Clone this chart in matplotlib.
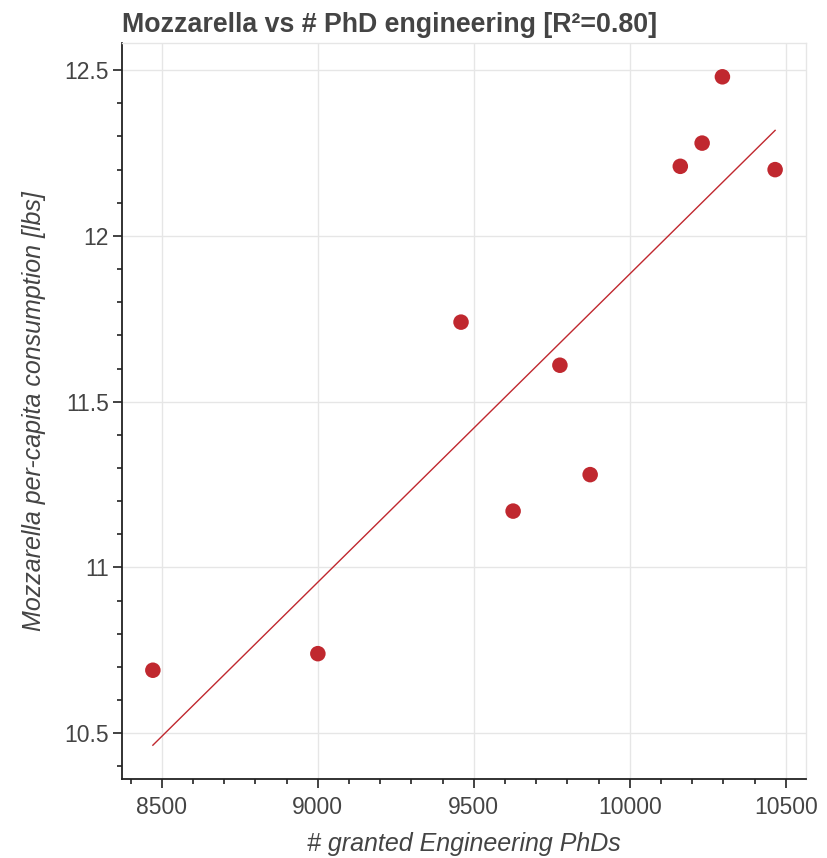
import numpy as np
import matplotlib.pyplot as plt
from matplotlib.ticker import MultipleLocator, FuncFormatter

# granted engineering PhDs vs mozzarella per-capita consumption
phds = [8471, 9000, 9459, 9626, 9776, 9873, 10162, 10232, 10297, 10466]
mozzarella = [10.69, 10.74, 11.74, 11.17, 11.61, 11.28, 12.21, 12.28, 12.48, 12.20]
r_squared = 0.80

TEXT = "#444444"
RED = "#c0282f"
GRID = "#e6e6e6"

plt.rcParams["font.family"] = ["Liberation Sans", "DejaVu Sans"]

x = np.array(phds, dtype=float)
y = np.array(mozzarella, dtype=float)
slope, intercept = np.polyfit(x, y, 1)
xfit = np.array([x.min(), x.max()])

fig = plt.figure(figsize=(8.27, 8.58), dpi=100)
ax = fig.add_axes([0.1475, 0.0921, 0.8271, 0.8578])

ax.plot(xfit, slope * xfit + intercept, color=RED, lw=1.0, zorder=2)
ax.scatter(x, y, s=125, color=RED, edgecolors="none", zorder=3)

ax.set_xlim(8372, 10565)
ax.set_ylim(10.362, 12.582)

ax.xaxis.set_major_locator(MultipleLocator(500))
ax.xaxis.set_minor_locator(MultipleLocator(100))
ax.yaxis.set_major_locator(MultipleLocator(0.5))
ax.yaxis.set_minor_locator(MultipleLocator(0.1))
ax.yaxis.set_major_formatter(FuncFormatter(lambda v, p: f"{v:g}"))

ax.grid(True, which="major", color=GRID, lw=1.0)
ax.set_axisbelow(True)

for side in ["top", "right"]:
    ax.spines[side].set_color(GRID)
    ax.spines[side].set_linewidth(1.0)
for side in ["left", "bottom"]:
    ax.spines[side].set_color("#222222")
    ax.spines[side].set_linewidth(1.3)

ax.tick_params(which="major", direction="out", length=6.5, width=1.2,
               color="#222222", labelsize=16.5, labelcolor=TEXT)
ax.tick_params(axis="x", which="major", pad=6)
ax.tick_params(axis="y", which="major", pad=3)
ax.tick_params(which="minor", direction="out", length=3.8, width=1.2,
               color="#222222")

ax.set_xlabel("# granted Engineering PhDs", fontsize=18, style="italic",
              color=TEXT, labelpad=9)
ax.set_ylabel("Mozzarella per-capita consumption [lbs]", fontsize=18,
              style="italic", color=TEXT, labelpad=13)

ax.set_title(f"Mozzarella vs # PhD engineering [R²={r_squared:.2f}]",
             loc="left", fontsize=19.3, fontweight="bold", color=TEXT, pad=8)

fig.savefig("out.png", dpi=100)
